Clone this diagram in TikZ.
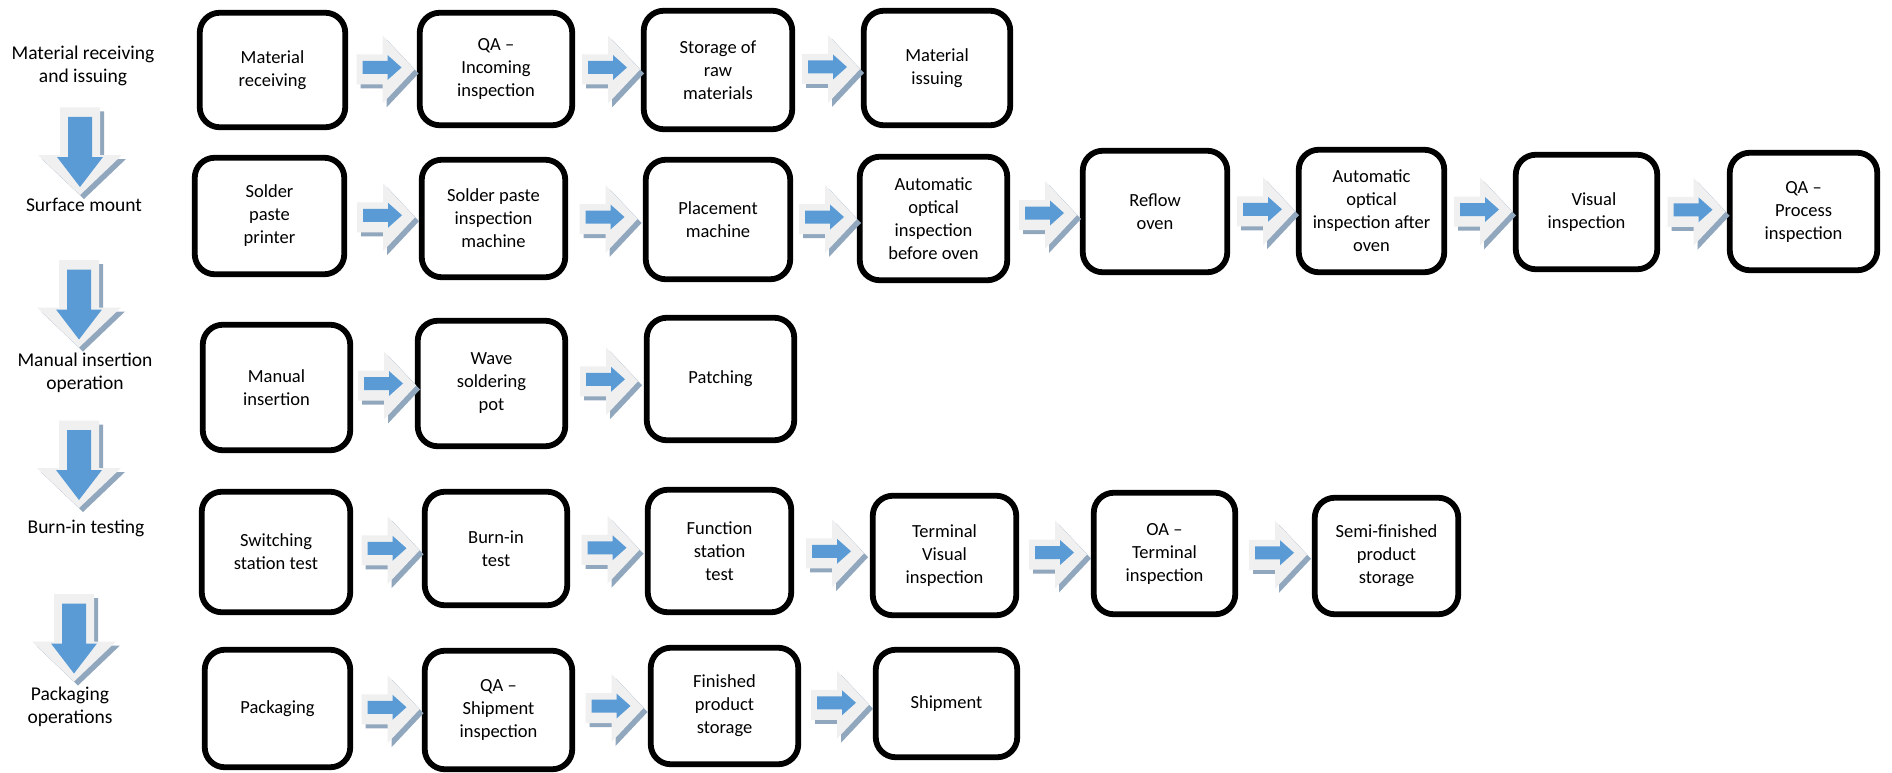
\documentclass[tikz,border=0pt]{standalone}
\usepackage{fontspec}
\setmainfont{Carlito}
\usetikzlibrary{calc}
\definecolor{arrblue}{HTML}{5B9BD5}
\definecolor{arrgray}{HTML}{F0F0F0}
\definecolor{arrshadow}{HTML}{91A7BE}
\newcommand\stagebox[6]{%
  \node[stage, minimum width={#3-#2-5.5}, minimum height={#5-#4-5.5}] (#1) at ({(#2+#3)/2},{(#4+#5)/2}) {#6};}
\tikzset{
  stage/.style={draw=black, line width=5.8pt, rounded corners=20pt, align=center,
    font=\fontsize{18.5}{23}\selectfont, inner sep=2pt},
  lbl/.style={align=center, font=\fontsize{19.5}{23}\selectfont},
  harrow/.pic={
    \fill[arrshadow, shift={(4,4)}] (-29,-15) -- (-3,-15) -- (-3,-34) -- (29,0) -- (-3,34) -- (-3,15) -- (-29,15) -- cycle;
    \fill[arrgray] (-29,-15) -- (-3,-15) -- (-3,-34) -- (29,0) -- (-3,34) -- (-3,15) -- (-29,15) -- cycle;
    \fill[arrblue] (-23,-8.5) -- (2,-8.5) -- (2,-14.5) -- (16,-2) -- (2,10.5) -- (2,4.5) -- (-23,4.5) -- cycle;
  },
  varrow/.pic={
    \fill[arrshadow, shift={(4,4)}] (-20,-44) -- (20,-44) -- (20,3.5) -- (42,3.5) -- (0,43.5) -- (-42,3.5) -- (-20,3.5) -- cycle;
    \fill[arrgray] (-20,-44) -- (20,-44) -- (20,3.5) -- (42,3.5) -- (0,43.5) -- (-42,3.5) -- (-20,3.5) -- cycle;
    \fill[arrblue] (-12,-34.5) -- (12,-34.5) -- (12,5.5) -- (23,5.5) -- (0,35.5) -- (-23,5.5) -- (-12,5.5) -- cycle;
  },
}
\begin{document}
\begin{tikzpicture}[x=1pt,y=-1pt]
\useasboundingbox[fill=white] (0,0) rectangle (1892,773);

% left vertical arrows (drawn first so that labels sit on top)
\pic at (80,151.5) {varrow};
\pic at (79,304) {varrow};
\pic at (79,464.5) {varrow};
\pic at (74,638) {varrow};

% left labels
\node[lbl] (l1) at (83,66) {Material receiving\\and issuing};
\node[lbl] (l2) at (84,205) {Surface mount};
\node[lbl] (l3) at (85,373) {Manual insertion\\operation};
\node[lbl] (l4) at (86,528) {Burn-in testing};
\node[lbl] (l5) at (70,707) {Packaging\\operations};

% row 1
\stagebox{A1}{197}{348}{10}{130}{Material\\receiving}
\stagebox{A2}{417}{575}{10}{128}{QA –\\Incoming\\inspection}
\stagebox{A3}{641}{795}{8}{132}{Storage of\\raw\\materials}
\stagebox{A4}{861}{1013}{8}{128}{Material\\issuing}
% row 2
\stagebox{B1}{192}{347}{155}{277}{Solder\\paste\\printer}
\stagebox{B2}{419}{568}{157}{280}{Solder paste\\inspection\\machine}
\stagebox{B3}{643}{793}{157}{282}{Placement\\machine}
\stagebox{B4}{857}{1010}{154}{283}{Automatic\\optical\\inspection\\before oven}
\stagebox{B5}{1080}{1230}{148}{275}{Reflow\\oven}
\stagebox{B6}{1296}{1447}{147}{275}{Automatic\\optical\\inspection after\\oven}
\stagebox{B7}{1513}{1660}{152}{272}{\hspace*{0.8em}Visual\\inspection}
\stagebox{B8}{1727}{1880}{150}{273}{QA –\\Process\\inspection}
% row 3
\stagebox{C1}{200}{353}{322}{453}{Manual\\insertion}
\stagebox{C2}{415}{568}{318}{449}{Wave\\soldering\\pot}
\stagebox{C3}{644}{797}{315}{443}{Patching}
% row 4
\stagebox{D1}{199}{353}{489}{615}{Switching\\station test}
\stagebox{D2}{422}{570}{489}{608}{Burn-in\\test}
\stagebox{D3}{645}{794}{487}{615}{Function\\station\\test}
\stagebox{D4}{870}{1019}{493}{618}{Terminal\\Visual\\inspection}
\stagebox{D5}{1091}{1238}{490}{617}{OA –\\Terminal\\inspection}
\stagebox{D6}{1312}{1461}{495}{617}{Semi-finished\\product\\storage}
% row 5
\stagebox{E1}{202}{353}{647}{770}{Packaging}
\stagebox{E2}{422}{575}{648}{772}{QA –\\Shipment\\inspection}
\stagebox{E3}{648}{801}{645}{767}{Finished\\product\\storage}
\stagebox{E4}{873}{1020}{647}{760}{Shipment}

% block arrows between consecutive steps
\foreach \a/\b in {A1/A2,A2/A3,A3/A4,
                   B1/B2,B2/B3,B3/B4,B4/B5,B5/B6,B6/B7,B7/B8,
                   C1/C2,C2/C3,
                   D1/D2,D2/D3,D3/D4,D4/D5,D5/D6,
                   E1/E2,E2/E3,E3/E4}
  \pic at ($(\a.east)!0.5!(\b.west)+(3,0)$) {harrow};
\end{tikzpicture}
\end{document}
